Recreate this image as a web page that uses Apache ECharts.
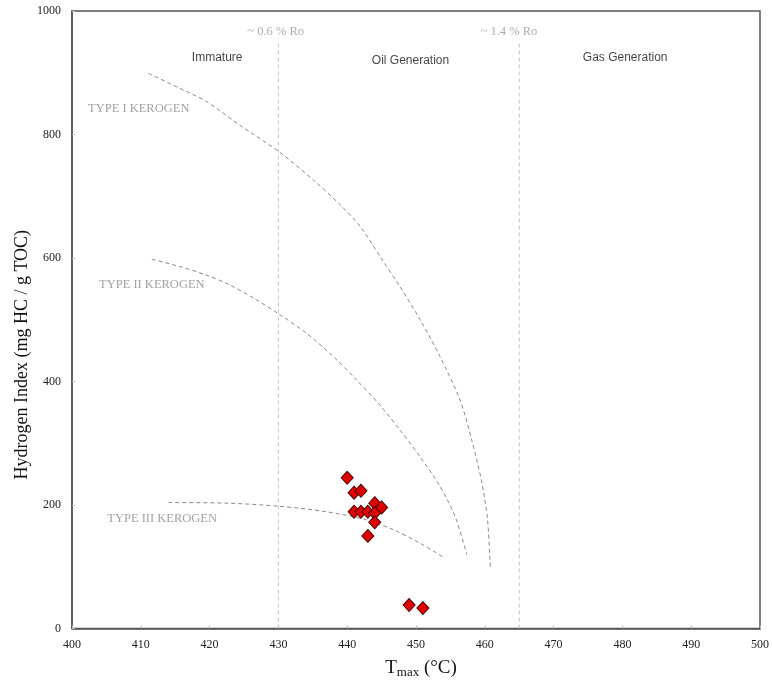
<!DOCTYPE html>
<html>
<head>
<meta charset="utf-8">
<script src="https://cdn.jsdelivr.net/npm/echarts@6/dist/echarts.min.js"></script>
<style>
  html, body { margin: 0; padding: 0; background: #fff; }
  #chart { width: 772px; height: 681px; }
</style>
</head>
<body>
<div id="chart"></div>
<script>
// Samples: Tmax (°C) and Hydrogen Index (mg HC / g TOC)
const sampleTmax = [440, 441, 442, 441, 442, 443, 444, 445, 444, 444, 443, 449, 451];
const sampleHI   = [244, 220, 223, 189, 189, 189, 203, 196, 187, 172, 150, 38, 33];

// Kerogen maturation pathways [Tmax, HI]
const typeICurve = [
  [411.1, 899], [416.2, 872], [419.6, 853], [424.4, 815], [430.1, 772],
  [435.1, 726], [439.0, 686], [441.9, 651], [444.8, 602], [447.7, 553],
  [450.6, 500], [453.5, 440], [456.4, 370], [458.1, 305], [459.5, 240],
  [460.4, 176], [460.8, 97]
];
const typeIICurve = [
  [411.6, 598], [415.7, 586], [419.6, 572], [423.0, 556], [426.4, 535],
  [430.1, 509], [434.1, 478], [438.0, 440], [441.4, 402], [444.5, 365],
  [447.7, 321], [450.6, 278], [453.5, 230], [455.7, 181], [457.4, 119]
];
const typeIIICurve = [
  [414.0, 204], [422.5, 203], [430.1, 198], [437.0, 189], [442.8, 176],
  [446.7, 160], [450.6, 138], [454.2, 114]
];

// Maturity boundaries (vitrinite reflectance equivalents)
const boundaryTmax = [430, 465];
const boundaryTop = 948;
const boundaryNames = ['~ 0.6 % Ro', '~ 1.4 % Ro'];

// Zone and kerogen-type annotations [Tmax, HI, text]
const zoneLabels = [
  [421.1, 924, 'Immature'],
  [449.2, 919, 'Oil Generation'],
  [480.4, 924, 'Gas Generation']
];
const roLabels = [
  [429.6, 966, boundaryNames[0]],
  [463.5, 966, boundaryNames[1]]
];
const kerogenLabels = [
  [409.7, 841, 'TYPE I KEROGEN'],
  [411.6, 556, 'TYPE II KEROGEN'],
  [413.1, 177, 'TYPE III KEROGEN']
];

// Axis ranges and ticks
const xMin = 400, xMax = 500, xStep = 10;
const yMin = 0, yMax = 1000, yStep = 200;

const serif = '"Liberation Serif", "Times New Roman", serif';
const sans = '"Liberation Sans", Arial, sans-serif';

const curveStyle = { color: '#8a8a8a', width: 1, type: [4, 3] };

function curveSeries(name, data) {
  return {
    name, type: 'line', data, smooth: 0.3,
    showSymbol: false, symbol: 'none',
    lineStyle: curveStyle, silent: true, z: 2
  };
}

function textSeries(name, items, style) {
  return {
    name, type: 'scatter', symbolSize: 0, silent: true, z: 5,
    data: items.map(d => ({ value: [d[0], d[1]], label: { formatter: d[2] } })),
    label: Object.assign({ show: true, position: 'inside' }, style)
  };
}

const boundarySeries = boundaryTmax.map((t, i) => ({
  name: boundaryNames[i], type: 'line', data: [[t, yMin], [t, boundaryTop]],
  showSymbol: false, symbol: 'none', silent: true, z: 1,
  lineStyle: { color: '#c4c4c4', width: 1, type: [4, 3] }
}));

const chart = echarts.init(document.getElementById('chart'), null, { renderer: 'canvas' });

chart.setOption({
  animation: false,
  backgroundColor: '#fff',
  grid: {
    left: 72, right: 12, top: 11, bottom: 52.5,
    outerBoundsMode: 'none', containLabel: false,
    show: true, borderColor: '#555', borderWidth: 1.5, backgroundColor: 'transparent'
  },
  xAxis: {
    type: 'value', min: xMin, max: xMax, interval: xStep,
    name: '{t|T}{s|max}{t| (°C)}', nameLocation: 'middle', nameGap: 29,
    nameMoveOverlap: false,
    nameTextStyle: {
      padding: [0, 0, 0, 10],
      rich: {
        t: { fontFamily: serif, fontSize: 19, color: '#111' },
        s: { fontFamily: serif, fontSize: 13, color: '#111', verticalAlign: 'bottom', padding: [9, 0, 0, 0] }
      }
    },
    axisLine: { lineStyle: { color: '#555', width: 1.5 } },
    axisTick: { inside: true, length: 3, lineStyle: { color: '#bbb' } },
    axisLabel: { fontFamily: serif, fontSize: 12, color: '#222', margin: 10 },
    splitLine: { show: false }
  },
  yAxis: {
    type: 'value', min: yMin, max: yMax, interval: yStep,
    name: 'Hydrogen Index (mg HC / g TOC)', nameLocation: 'middle', nameGap: 41,
    nameMoveOverlap: false,
    nameTextStyle: { fontFamily: serif, fontSize: 18, color: '#111', padding: [0, 70, 0, 0] },
    axisLine: { lineStyle: { color: '#555', width: 1.5 } },
    axisTick: { inside: true, length: 3, lineStyle: { color: '#bbb' } },
    axisLabel: { fontFamily: serif, fontSize: 12, color: '#222', margin: 11, formatter: v => String(v) },
    splitLine: { show: false }
  },
  series: [
    ...boundarySeries,
    curveSeries('Type I', typeICurve),
    curveSeries('Type II', typeIICurve),
    curveSeries('Type III', typeIIICurve),
    textSeries('zones', zoneLabels, { fontFamily: sans, fontSize: 12, color: '#111' }),
    textSeries('ro', roLabels, { fontFamily: serif, fontSize: 12.5, color: '#999' }),
    textSeries('kerogen', kerogenLabels, { fontFamily: serif, fontSize: 12.5, color: '#8a8a8a' }),
    {
      name: 'Samples', type: 'scatter', z: 10,
      data: sampleTmax.map((t, i) => [t, sampleHI[i]]),
      symbol: 'diamond', symbolSize: [12, 13],
      itemStyle: { color: '#e00000', borderColor: '#4a0000', borderWidth: 1, opacity: 1 }
    }
  ]
});
</script>
</body>
</html>
